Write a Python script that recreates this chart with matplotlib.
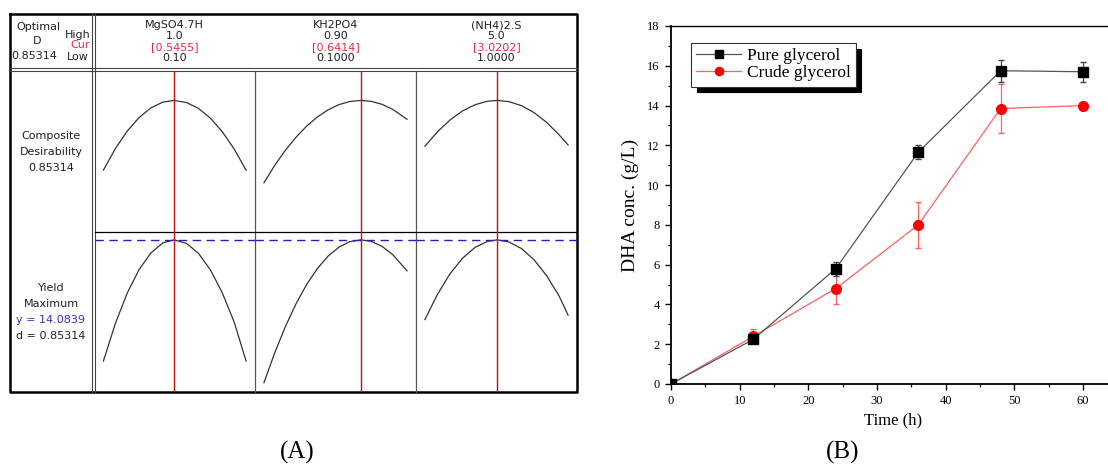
import numpy as np
import matplotlib
matplotlib.use("Agg")
import matplotlib.pyplot as plt

W, H = 1108, 470

# ---------------- panel A data (Minitab optimisation plot) ----------------
factor_names = ["MgSO4.7H", "KH2PO4", "(NH4)2.S"]
factor_high = ["1.0", "0.90", "5.0"]
factor_low = ["0.10", "0.1000", "1.0000"]
factor_cur_text = ["[0.5455]", "[0.6414]", "[3.0202]"]
factor_range = [(0.10, 1.0), (0.10, 0.90), (1.0, 5.0)]
factor_cur = [0.5455, 0.6414, 3.0202]

optimal_d = 0.85314
yield_max = 14.0839

mg_x = [0.10, 0.175, 0.25, 0.325, 0.40, 0.475, 0.5455, 0.625, 0.70, 0.775, 0.85, 0.925, 1.0]
mg_d = [0.401, 0.540, 0.654, 0.742, 0.805, 0.842, 0.853, 0.839, 0.801, 0.738, 0.650, 0.538, 0.401]
mg_y = [6.05, 8.53, 10.55, 12.11, 13.22, 13.88, 14.08, 13.84, 13.18, 12.09, 10.57, 8.63, 6.05]

kh_x = [0.10, 0.16, 0.22, 0.28, 0.34, 0.40, 0.46, 0.52, 0.58, 0.6414, 0.70, 0.76, 0.82, 0.90]
kh_d = [0.319, 0.431, 0.530, 0.615, 0.688, 0.747, 0.793, 0.826, 0.846, 0.853, 0.847, 0.828, 0.795, 0.731]
kh_y = [4.61, 6.59, 8.34, 9.86, 11.15, 12.20, 13.02, 13.60, 13.96, 14.08, 13.98, 13.65, 13.10, 12.03]

nh_x = [1.0, 1.35, 1.7, 2.05, 2.4, 2.75, 3.0202, 3.35, 3.7, 4.05, 4.4, 4.75, 5.0]
nh_d = [0.556, 0.650, 0.726, 0.785, 0.825, 0.848, 0.853, 0.845, 0.819, 0.774, 0.711, 0.630, 0.565]
nh_y = [8.80, 10.47, 11.83, 12.86, 13.58, 13.98, 14.08, 13.94, 13.50, 12.76, 11.71, 10.36, 9.10]

curves_x = [mg_x, kh_x, nh_x]
curves_d = [mg_d, kh_d, nh_d]
curves_y = [mg_y, kh_y, nh_y]

# ---------------- panel B data ----------------
time_h = [0, 12, 24, 36, 48, 60]
pure = [0.0, 2.25, 5.8, 11.65, 15.75, 15.7]
pure_err = [0.1, 0.2, 0.35, 0.35, 0.55, 0.5]
crude = [0.0, 2.4, 4.8, 8.0, 13.85, 14.0]
crude_err = [0.1, 0.35, 0.8, 1.15, 1.25, 0.2]


def px_box(x0, y0, x1, y1):
    return [x0 / W, 1 - y1 / H, (x1 - x0) / W, (y1 - y0) / H]


fig = plt.figure(figsize=(W / 100, H / 100), dpi=100)

# overlay in pixel coordinates for the panel A frame and free text
ov = fig.add_axes([0, 0, 1, 1])
ov.set_xlim(0, W)
ov.set_ylim(H, 0)
ov.axis("off")

sans = "DejaVu Sans"
serif = "Liberation Serif"
txt = "#222222"

# frame lines
ov.plot([10, 577, 577, 10, 10], [14, 14, 392, 392, 14], color="black", lw=1.8)
ov.plot([10, 577], [67.5, 67.5], color="#444444", lw=0.8)
ov.plot([10, 577], [70.5, 70.5], color="#444444", lw=0.8)
ov.plot([91.5, 91.5], [14, 392], color="#444444", lw=0.8)
ov.plot([94.5, 94.5], [14, 392], color="#444444", lw=0.8)
ov.plot([255, 255], [70.5, 392], color="#555555", lw=0.9)
ov.plot([416, 416], [70.5, 392], color="#555555", lw=0.9)
ov.plot([94.5, 577], [232, 232], color="black", lw=0.9)

fs = 8
ov.text(38, 27, "Optimal", ha="center", va="center", fontsize=fs, family=sans, color=txt)
ov.text(37, 41, "D", ha="center", va="center", fontsize=fs, family=sans, color=txt)
ov.text(34, 56, f"{optimal_d:.5f}", ha="center", va="center", fontsize=fs, family=sans, color=txt)
ov.text(78, 35, "High", ha="center", va="center", fontsize=fs, family=sans, color=txt)
ov.text(80, 45, "Cur", ha="center", va="center", fontsize=fs, family=sans, color="#e03040")
ov.text(78, 57, "Low", ha="center", va="center", fontsize=fs, family=sans, color=txt)

col_px = [(94.5, 255), (255, 416), (416, 577)]
for i, (c0, c1) in enumerate(col_px):
    cx = (c0 + c1) / 2
    ov.text(cx, 25, factor_names[i], ha="center", va="center", fontsize=fs, family=sans, color=txt)
    ov.text(cx, 36, factor_high[i], ha="center", va="center", fontsize=fs, family=sans, color=txt)
    ov.text(cx, 47, factor_cur_text[i], ha="center", va="center", fontsize=fs, family=sans, color="#e03040")
    ov.text(cx, 58, factor_low[i], ha="center", va="center", fontsize=fs, family=sans, color=txt)

ov.text(51, 136, "Composite", ha="center", va="center", fontsize=fs, family=sans, color=txt)
ov.text(51, 152, "Desirability", ha="center", va="center", fontsize=fs, family=sans, color=txt)
ov.text(51, 168, f"{optimal_d:.5f}", ha="center", va="center", fontsize=fs, family=sans, color=txt)
ov.text(51, 288, "Yield", ha="center", va="center", fontsize=fs, family=sans, color=txt)
ov.text(51, 304, "Maximum", ha="center", va="center", fontsize=fs, family=sans, color=txt)
ov.text(51, 320, f"y = {yield_max:.4f}", ha="center", va="center", fontsize=fs, family=sans, color="#3333cc")
ov.text(51, 336, f"d = {optimal_d:.5f}", ha="center", va="center", fontsize=fs, family=sans, color=txt)

ov.text(297, 452, "(A)", ha="center", va="center", fontsize=18, family=serif, color="black")
ov.text(843, 452, "(B)", ha="center", va="center", fontsize=18, family=serif, color="black")

# curve cells
row_px = [(70.5, 232), (232, 392)]
for i, (c0, c1) in enumerate(col_px):
    lo, hi = factor_range[i]
    pad = 0.0625 * (hi - lo)
    for r, (r0, r1) in enumerate(row_px):
        ax = fig.add_axes(px_box(c0, r0, c1, r1))
        ax.patch.set_alpha(0)
        ax.set_xlim(lo - pad, hi + pad)
        if r == 0:
            ax.set_ylim(0, 1.047)
            ax.plot(curves_x[i], curves_d[i], color="#333333", lw=0.9)
        else:
            ax.set_ylim(4, 14.6)
            ax.plot(curves_x[i], curves_y[i], color="#333333", lw=0.9)
            ax.axhline(yield_max, color="#2020c0", lw=1.0, ls=(0, (6, 4)))
        ax.axvline(factor_cur[i], color="#c01010", lw=1.0)
        ax.axis("off")

# ---------------- panel B ----------------
axb = fig.add_axes(px_box(671, 26, 1116, 384))
axb.errorbar(time_h, pure, yerr=pure_err, fmt="none", capsize=2.5,
             elinewidth=0.9, ecolor="#444444", zorder=3)
axb.errorbar(time_h, crude, yerr=crude_err, fmt="none", capsize=2.5,
             elinewidth=0.9, ecolor="#ff6060", zorder=2)
axb.plot(time_h, pure, color="#555555", lw=0.9, marker="s", ms=6.5,
         mfc="black", mec="black", label="Pure glycerol", zorder=3)
axb.plot(time_h, crude, color="#ff6060", lw=0.9, marker="o", ms=7,
         mfc="red", mec="red", label="Crude glycerol", zorder=2)
axb.set_xlim(0, 64.8)
axb.set_ylim(0, 18)
axb.set_xticks(range(0, 61, 10))
axb.set_xticks(range(5, 61, 10), minor=True)
axb.set_yticks(range(0, 19, 2))
axb.set_yticks(range(1, 18, 2), minor=True)
axb.spines["right"].set_visible(False)
for s in ["left", "bottom"]:
    axb.spines[s].set_linewidth(1.3)
axb.spines["top"].set_linewidth(1.0)
axb.tick_params(which="major", direction="out", length=4.5, width=1.0,
                labelsize=9, top=False, right=False)
axb.tick_params(which="minor", direction="out", length=2.5, width=0.9,
                top=False, right=False)
for lab in axb.get_xticklabels() + axb.get_yticklabels():
    lab.set_family(serif)
axb.set_xlabel("Time (h)", fontsize=12, family=serif, labelpad=4)
axb.set_ylabel("DHA conc. (g/L)", fontsize=14, family=serif, labelpad=6)

leg = axb.legend(loc="upper left", bbox_to_anchor=(0.045, 0.9525),
                 borderaxespad=0,
                 prop={"family": serif, "size": 12.5}, fancybox=False,
                 edgecolor="#333333", framealpha=1, borderpad=0.3,
                 handlelength=2.6, handletextpad=0.3, labelspacing=0.05,
                 markerscale=0.85,
                 shadow={"color": "black", "alpha": 1, "ox": 4, "oy": -4})
leg.get_frame().set_linewidth(0.8)

fig.savefig("out.png", dpi=100)
